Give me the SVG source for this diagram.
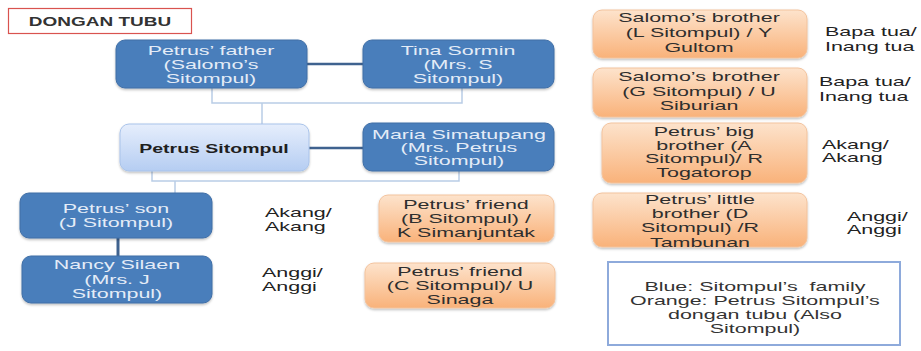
<svg xmlns="http://www.w3.org/2000/svg" width="921" height="351" viewBox="0 0 921 351">
<defs>
<linearGradient id="gOrange" x1="0" y1="0" x2="0" y2="1">
<stop offset="0" stop-color="#fde3cc"/>
<stop offset="1" stop-color="#f9b27a"/>
</linearGradient>
<linearGradient id="gLight" x1="0" y1="0" x2="0" y2="1">
<stop offset="0" stop-color="#e6eefc"/>
<stop offset="1" stop-color="#b5cdf2"/>
</linearGradient>
<filter id="sh" x="-10%" y="-10%" width="120%" height="130%">
<feDropShadow dx="0" dy="1.5" stdDeviation="1.2" flood-color="#000" flood-opacity="0.25"/>
</filter>
</defs>
<style>
text { font-family: "Liberation Sans", Arial, sans-serif; font-size: 13px; transform-box: fill-box; transform: scaleX(1.65); }
.c { text-anchor: middle; transform-origin: center; }
.l { text-anchor: start; transform-origin: 0% 50%; }
.blue rect { fill: #4a7ebb; stroke: #3f6ea6; stroke-width: 1; filter: url(#sh); }
.blue text { fill: #e4ecf7; }
.orange rect { fill: url(#gOrange); stroke: #f3c39d; stroke-width: 1; filter: url(#sh); }
.orange text { fill: #2e2e2e; }
.light rect { fill: url(#gLight); stroke: #a9c3ea; stroke-width: 1; filter: url(#sh); }
.light text { fill: #1f1f1f; font-weight: bold; transform: scaleX(1.5); }
.lab { fill: #222; }
.dark { stroke: #3f628f; stroke-width: 2.5; fill: none; }
.thin { stroke: #b9cde6; stroke-width: 1.5; fill: none; }
</style>

<g id="title">
<rect x="8.5" y="8.5" width="183" height="25" fill="#fff" stroke="#d9534f" stroke-width="1.2"/>
<text class="c" x="100" y="26" style="font-weight:bold;fill:#333;font-size:12.5px;transform:scaleX(1.52)">DONGAN TUBU</text>
</g>

<g id="connectors">
<line class="dark" x1="307" y1="64" x2="363" y2="64"/>
<line class="dark" x1="309" y1="148" x2="363" y2="148"/>
<line class="dark" x1="118" y1="238" x2="118" y2="256" style="stroke-width:3"/>
<polyline class="thin" points="212,88 212,103 462,103 462,88"/>
<line class="thin" x1="262" y1="103" x2="262" y2="124"/>
<polyline class="thin" points="152,171 152,181 459,181 459,171"/>
<line class="thin" x1="175" y1="181" x2="175" y2="193"/>
</g>

<g id="petrus-father" class="blue">
<rect x="116" y="40" width="191" height="48" rx="9"/>
<text class="c" x="211" y="55">Petrus’ father</text>
<text class="c" x="211" y="69">(Salomo’s</text>
<text class="c" x="211" y="83">Sitompul)</text>
</g>

<g id="tina-sormin" class="blue">
<rect x="363" y="40" width="191" height="48" rx="9"/>
<text class="c" x="458" y="55">Tina Sormin</text>
<text class="c" x="458" y="69">(Mrs. S</text>
<text class="c" x="458" y="83">Sitompul)</text>
</g>

<g id="petrus-sitompul" class="light">
<rect x="120" y="124" width="189" height="47" rx="9"/>
<text class="c" x="214" y="153">Petrus Sitompul</text>
</g>

<g id="maria-simatupang" class="blue">
<rect x="363" y="123" width="191" height="48" rx="9"/>
<text class="c" x="459" y="139">Maria Simatupang</text>
<text class="c" x="459" y="152">(Mrs. Petrus</text>
<text class="c" x="459" y="165">Sitompul)</text>
</g>

<g id="petrus-son" class="blue">
<rect x="20" y="193" width="192" height="45" rx="9"/>
<text class="c" x="116" y="213">Petrus’ son</text>
<text class="c" x="116" y="227">(J Sitompul)</text>
</g>

<g id="nancy-silaen" class="blue">
<rect x="22" y="256" width="190" height="47" rx="9"/>
<text class="c" x="117" y="269">Nancy Silaen</text>
<text class="c" x="117" y="284">(Mrs. J</text>
<text class="c" x="117" y="298">Sitompul)</text>
</g>

<g id="label-akang-1">
<text class="l lab" x="265" y="217">Akang/</text>
<text class="l lab" x="265" y="231">Akang</text>
</g>

<g id="label-anggi-1">
<text class="l lab" x="262" y="277">Anggi/</text>
<text class="l lab" x="262" y="291">Anggi</text>
</g>

<g id="friend-b" class="orange">
<rect x="379" y="195" width="175" height="47" rx="9"/>
<text class="c" x="466" y="209">Petrus’ friend</text>
<text class="c" x="466" y="223">(B Sitompul) /</text>
<text class="c" x="466" y="237">K Simanjuntak</text>
</g>

<g id="friend-c" class="orange">
<rect x="365" y="263" width="190" height="45" rx="9"/>
<text class="c" x="460" y="276">Petrus’ friend</text>
<text class="c" x="460" y="290">(C Sitompul)/ U</text>
<text class="c" x="460" y="304">Sinaga</text>
</g>

<g id="salomo-brother-l" class="orange">
<rect x="593" y="10" width="214" height="48" rx="9"/>
<text class="c" x="699" y="22">Salomo’s brother</text>
<text class="c" x="699" y="37">(L Sitompul) / Y</text>
<text class="c" x="699" y="52">Gultom</text>
</g>

<g id="label-bapa-1">
<text class="l lab" x="825" y="36">Bapa tua/</text>
<text class="l lab" x="825" y="51">Inang tua</text>
</g>

<g id="salomo-brother-g" class="orange">
<rect x="593" y="68" width="214" height="49" rx="9"/>
<text class="c" x="699" y="81">Salomo’s brother</text>
<text class="c" x="699" y="96">(G Sitompul) / U</text>
<text class="c" x="699" y="110">Siburian</text>
</g>

<g id="label-bapa-2">
<text class="l lab" x="819" y="86">Bapa tua/</text>
<text class="l lab" x="819" y="101">Inang tua</text>
</g>

<g id="petrus-big-brother" class="orange">
<rect x="602" y="123" width="205" height="60" rx="9"/>
<text class="c" x="704" y="136">Petrus’ big</text>
<text class="c" x="704" y="150">brother (A</text>
<text class="c" x="704" y="163">Sitompul)/ R</text>
<text class="c" x="704" y="177">Togatorop</text>
</g>

<g id="label-akang-2">
<text class="l lab" x="822" y="149">Akang/</text>
<text class="l lab" x="822" y="162">Akang</text>
</g>

<g id="petrus-little-brother" class="orange">
<rect x="593" y="193" width="214" height="54" rx="9"/>
<text class="c" x="700" y="204">Petrus’ little</text>
<text class="c" x="700" y="218">brother (D</text>
<text class="c" x="700" y="232">Sitompul) /R</text>
<text class="c" x="700" y="247">Tambunan</text>
</g>

<g id="label-anggi-2">
<text class="l lab" x="847" y="221">Anggi/</text>
<text class="l lab" x="847" y="234">Anggi</text>
</g>

<g id="legend">
<rect x="608" y="262" width="292" height="83" fill="#fff" stroke="#8eaadb" stroke-width="2"/>
<text class="c" x="755" y="291" fill="#333" xml:space="preserve">Blue: Sitompul’s  family</text>
<text class="c" x="755" y="305" fill="#333">Orange: Petrus Sitompul’s</text>
<text class="c" x="755" y="319" fill="#333">dongan tubu (Also</text>
<text class="c" x="755" y="333" fill="#333">Sitompul)</text>
</g>
</svg>
